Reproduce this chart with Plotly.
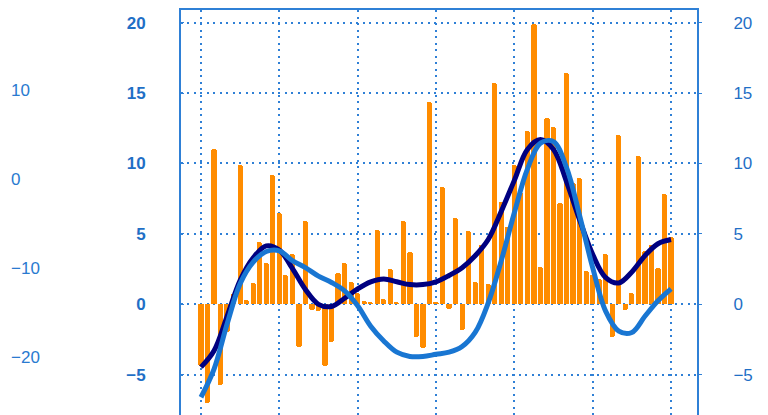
import plotly.graph_objects as go

# ---- data ----
months = list(range(73))
bars = [-4.4, -7.0, 11.0, -5.7, -2.0, 0.7, 9.9, 0.3, 1.5, 4.4,
        2.9, 9.2, 6.5, 2.1, 3.6, -3.0, 5.9, -0.4, -0.5, -4.35,
        -2.7, 2.2, 2.9, 1.6, 0.8, 0.25, 0.2, 5.3, 0.4, 2.5,
        0.15, 5.9, 3.7, -2.3, -3.1, 14.4, 0.2, 8.35, -0.35, 6.1,
        -1.8, 5.2, 1.6, 4.2, 1.45, 15.7, 7.25, 5.5, 9.9, 8.0,
        12.3, 19.9, 2.65, 13.2, 12.6, 7.2, 16.4, 8.6, 9.0, 2.35,
        2.1, 1.8, 3.6, -2.3, 12.0, -0.4, 0.8, 10.5, 3.8, 4.2,
        2.55, 7.8, 4.8]

line_x = list(range(0, 73, 2))
dark_line = [-4.46, -3.3, -0.85, 1.7, 3.3, 4.15, 3.85, 2.55, 1.05, 0.0,
             -0.15, 0.43, 1.1, 1.6, 1.8, 1.6, 1.4, 1.4, 1.6, 2.05,
             2.6, 3.45, 4.6, 6.6, 8.8, 11.0, 11.7, 11.0, 8.7, 6.0,
             3.55, 1.9, 1.52, 2.3, 3.45, 4.3, 4.6]
light_line = [-6.6, -4.6, -1.4, 1.47, 3.0, 3.75, 3.8, 3.1, 2.6, 2.0,
              1.55, 0.95, -0.1, -1.55, -2.6, -3.4, -3.7, -3.7, -3.55, -3.4,
              -3.0, -2.0, 0.1, 3.1, 6.5, 9.6, 11.45, 11.55, 9.7, 6.3,
              2.6, -0.5, -1.9, -2.0, -0.85, 0.25, 1.1]

main_ticks = [-5, 0, 5, 10, 15, 20]
outer_ticks = [-20, -10, 0, 10]
x_grid = list(range(0, 73, 12))

# ---- styling ----
BLUE = "#1f6fc6"
GRID = "#2f80d6"
FONT = "Liberation Sans, Arial, sans-serif"

fig = go.Figure()
fig.add_trace(go.Bar(x=months, y=bars, width=0.8,
                     marker=dict(color="#FF8C00", cornerradius="50%",
                                 line=dict(width=0)),
                     showlegend=False, hoverinfo="skip"))
fig.add_trace(go.Scatter(x=line_x, y=dark_line, mode="lines",
                         line=dict(color="#000080", width=5, shape="spline", smoothing=1),
                         showlegend=False))
fig.add_trace(go.Scatter(x=line_x, y=light_line, mode="lines",
                         line=dict(color="#1976D2", width=5, shape="spline", smoothing=1),
                         showlegend=False))
fig.add_trace(go.Scatter(x=[None], y=[None], yaxis="y2", showlegend=False))
fig.add_trace(go.Scatter(x=[None], y=[None], yaxis="y3", showlegend=False))

fig.update_layout(
    width=768, height=415,
    margin=dict(l=2, r=79, t=2, b=8),
    paper_bgcolor="white", plot_bgcolor="white",
    font=dict(family=FONT, color=BLUE),
    bargap=0,
    xaxis=dict(domain=[0.2489, 1], range=[-3.06, 75.98],
               tickvals=x_grid, showticklabels=False, ticks="",
               showgrid=True, gridcolor=GRID, gridwidth=1.5, griddash="2px,4.5px",
               showline=True, linecolor=GRID, linewidth=2, side="top", mirror=False,
               zeroline=False),
    yaxis=dict(range=[-7.86, 20.9], tickvals=main_ticks,
               tickfont=dict(size=17, color=BLUE, weight="bold"),
               showgrid=True, gridcolor=GRID, gridwidth=1.5, griddash="2px,4.5px",
               showline=True, linecolor=GRID, linewidth=2,
               ticks="inside", ticklen=3, tickcolor=GRID,
               ticklabelstandoff=30, zeroline=False),
    yaxis2=dict(overlaying="y", side="right", anchor="x", range=[-7.86, 20.9],
                tickvals=main_ticks, tickfont=dict(size=17, color=BLUE),
                showgrid=False, showline=True, linecolor=GRID, linewidth=2,
                ticks="outside", ticklen=3, tickcolor=GRID,
                ticklabelstandoff=28, zeroline=False),
    yaxis3=dict(overlaying="y", side="right", anchor="free", position=0,
                range=[-26.5, 19.0], tickvals=outer_ticks,
                tickfont=dict(size=17, color="#2a7ad0"),
                showgrid=False, showline=False, ticks="", zeroline=False),
)

fig.write_html("out.html")
